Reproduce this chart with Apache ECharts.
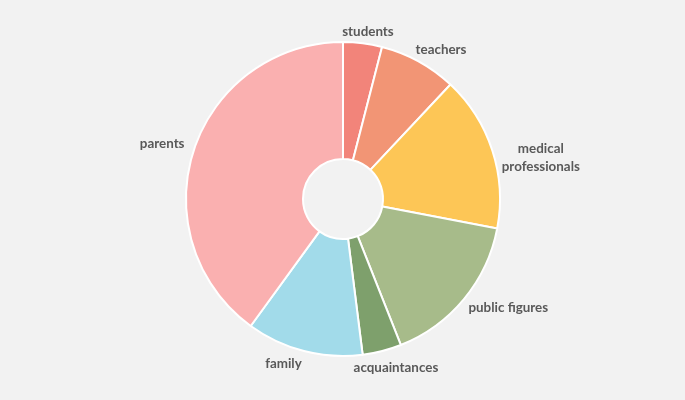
<!DOCTYPE html>
<html><head><meta charset="utf-8">
<script src="https://cdn.jsdelivr.net/npm/echarts@6/dist/echarts.min.js"></script>
<style>html,body{margin:0;padding:0;background:#f2f2f2;}#c{width:685px;height:400px;}</style>
</head><body><div id="c"></div>
<script>
const categories = ['students','teachers','medical\nprofessionals','public figures','acquaintances','family','parents'];
const values = [4, 8, 16, 16, 4, 12, 40];
const colors = ['#F2847A','#F29575','#FDC656','#A7BB8A','#7EA06C','#A2DBEA','#FAB0B0'];

// label placement (polar, relative to pie center): distance and angular nudge from slice middle
const labelDist = [169, 179, 202, 198, 177, 175, 189];
const labelNudge = [1.3, 4.4, 6.3, -6.2, -3, 5.5, -1.1];

const CX = 343, CY = 199;
const total = values.reduce((a, b) => a + b, 0);
const midAngles = [];
let acc = 0;
values.forEach(v => { midAngles.push((acc + v / 2) / total * 360); acc += v; });

const chart = echarts.init(document.getElementById('c'));
chart.setOption({
  backgroundColor: '#f2f2f2',
  animation: false,
  series: [{
    type: 'pie',
    center: [CX, CY],
    radius: [40, 157],
    startAngle: 90,
    clockwise: true,
    color: colors,
    itemStyle: { borderColor: '#ffffff', borderWidth: 2 },
    label: {
      show: true, position: 'outside',
      fontFamily: 'Lato', fontWeight: 'bold', fontSize: 13.4, color: '#595959',
      lineHeight: 18
    },
    labelLine: { show: false },
    labelLayout: function (p) {
      const i = p.dataIndex;
      const a = (midAngles[i] + labelNudge[i]) * Math.PI / 180;
      return {
        x: CX + labelDist[i] * Math.sin(a),
        y: CY - labelDist[i] * Math.cos(a),
        align: 'center',
        verticalAlign: 'middle'
      };
    },
    data: categories.map((n, i) => ({ name: n, value: values[i] }))
  }]
});
</script></body></html>
